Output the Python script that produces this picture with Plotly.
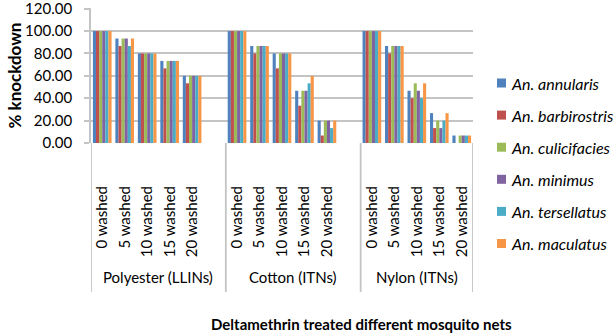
import plotly.graph_objects as go

# Net types (outer category) and washing levels (inner category)
nets = ["Polyester (LLINs)", "Cotton (ITNs)", "Nylon (ITNs)"]
washes = ["0 washed", "5 washed", "10 washed", "15 washed", "20 washed"]

species = ["An. annularis", "An. barbirostris", "An. culicifacies",
           "An. minimus", "An. tersellatus", "An. maculatus"]
colors = ["#4F81BD", "#C0504D", "#9BBB59", "#8064A2", "#4BACC6", "#F79646"]

# % knockdown, ordered Polyester(0..20 washed), Cotton(0..20), Nylon(0..20)
annularis = [100, 93.33, 80, 73.33, 60,
             100, 86.67, 80, 46.67, 20,
             100, 86.67, 46.67, 26.67, 6.67]
barbirostris = [100, 86.67, 80, 66.67, 53.33,
                100, 80, 66.67, 33.33, 6.67,
                100, 80, 40, 13.33, 0]
culicifacies = [100, 93.33, 80, 73.33, 60,
                100, 86.67, 80, 46.67, 20,
                100, 86.67, 53.33, 20, 6.67]
minimus = [100, 93.33, 80, 73.33, 60,
           100, 86.67, 80, 46.67, 20,
           100, 86.67, 46.67, 13.33, 6.67]
tersellatus = [100, 86.67, 80, 73.33, 60,
               100, 86.67, 80, 53.33, 13.33,
               100, 86.67, 40, 20, 6.67]
maculatus = [100, 93.33, 80, 73.33, 60,
             100, 86.67, 80, 60, 20,
             100, 86.67, 53.33, 26.67, 6.67]

series = [annularis, barbirostris, culicifacies, minimus, tersellatus, maculatus]
y_ticks = [0, 20, 40, 60, 80, 100, 120]

# each net type occupies 6 slots on the category axis (5 used + 1 spacer)
slot_w = 6
xpos, xlab = [], []
for g in range(len(nets)):
    for w, lab in enumerate(washes):
        xpos.append(g * slot_w + w)
        xlab.append(lab)

FONT = "Lato"
GRID = "#C4C4C4"
W, H = 616, 333
M_L, M_R, M_T, M_B = 91, 143, 8, 190
PW, PH = W - M_L - M_R, H - M_T - M_B


def px_x(px):
    """pixel column -> paper x"""
    return (px - M_L) / PW


def px_y(py):
    """pixel row -> paper y"""
    return (H - M_B - py) / PH


fig = go.Figure()
for name, vals, col in zip(species, series, colors):
    fig.add_trace(go.Bar(
        x=xpos, y=vals, name=name, marker=dict(color=col, line=dict(width=0)),
        showlegend=False,
    ))

x_min = -0.5
x_max = (len(nets) - 1) * slot_w + len(washes) - 0.5

shapes = []
# vertical dividers between net groups, reaching down past the labels
bounds = [x_min] + [g * slot_w - 0.5 for g in range(1, len(nets))] + [x_max]
for b in bounds:
    shapes.append(dict(type="line", xref="x", yref="paper", x0=b, x1=b,
                       y0=px_y(292), y1=0, line=dict(color=GRID, width=1.8)))

annotations = []
for g, net in enumerate(nets):
    annotations.append(dict(
        x=(bounds[g] + bounds[g + 1]) / 2, y=px_y(277), xref="x", yref="paper",
        text=net, showarrow=False, font=dict(family=FONT, size=15, color="#000"),
        xanchor="center", yanchor="middle"))
annotations.append(dict(
    x=px_x(14), y=0.5, xref="paper", yref="paper", text="<b>% knockdown</b>",
    textangle=-90, showarrow=False, font=dict(family=FONT, size=17, color="#000"),
    xanchor="center", yanchor="middle"))
annotations.append(dict(
    x=px_x(361), y=px_y(324), xref="paper", yref="paper",
    text="<b>Deltamethrin treated different mosquito nets</b>",
    showarrow=False, font=dict(family=FONT, size=15, color="#000"),
    xanchor="center", yanchor="middle"))

# series key on the right
row0, row_step = 83, 32.1
for i, (name, col) in enumerate(zip(species, colors)):
    cy = row0 + i * row_step
    shapes.append(dict(type="rect", xref="paper", yref="paper",
                       x0=px_x(497), x1=px_x(506), y0=px_y(cy + 4.5), y1=px_y(cy - 4.5),
                       fillcolor=col, line=dict(width=0)))
    annotations.append(dict(
        x=px_x(509), y=px_y(cy), xref="paper", yref="paper",
        text=f"<i>{name}</i>", showarrow=False,
        font=dict(family=FONT, size=16, color="#000"),
        xanchor="left", yanchor="middle"))

fig.update_layout(
    width=W, height=H,
    margin=dict(l=M_L, r=M_R, t=M_T, b=M_B, pad=0),
    paper_bgcolor="white", plot_bgcolor="white",
    barmode="group", bargap=0.17, bargroupgap=0,
    font=dict(family=FONT, size=14, color="#000"),
    shapes=shapes, annotations=annotations,
    showlegend=False,
)
fig.update_xaxes(
    range=[x_min, x_max], tickmode="array", tickvals=xpos, ticktext=xlab,
    tickangle=-90, showgrid=False, zeroline=False, showline=False,
    ticks="", ticklabelstandoff=39, automargin=False,
    tickfont=dict(family=FONT, size=15, color="#000"),
)
fig.update_yaxes(
    range=[0, 120.6], tickmode="array", tickvals=y_ticks,
    tickformat=".2f", ticklabeloverflow="allow", automargin=False,
    showgrid=True, gridcolor=GRID, gridwidth=1.8,
    zeroline=False, showline=True, linecolor=GRID, linewidth=1.8,
    ticks="outside", ticklen=5, tickcolor=GRID, tickwidth=1.8,
    ticklabelstandoff=9,
    tickfont=dict(family=FONT, size=15, color="#000"),
)

fig.write_html("out.html")
